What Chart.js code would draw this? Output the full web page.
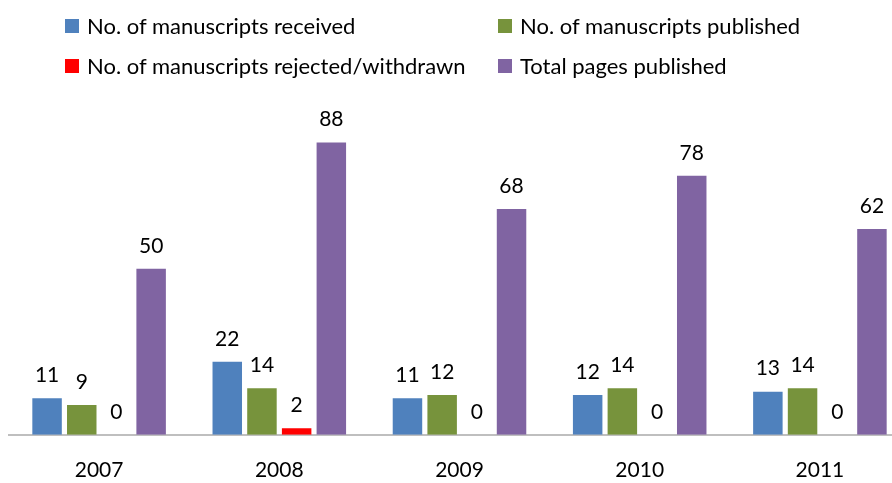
<!DOCTYPE html>
<html>
<head>
<meta charset="utf-8">
<script src="https://cdn.jsdelivr.net/npm/chart.js@4"></script>
<style>
  html, body { margin:0; padding:0; background:#fff; overflow:hidden; width:892px; height:483px; }
  #wrap { position:absolute; left:0; top:0; width:910px; height:506px; }
  #legend { position:absolute; left:0; top:0; width:892px; height:90px; font-family:Lato, "Liberation Sans", sans-serif; font-size:22px; color:#000; z-index:2; }
  .item { position:absolute; display:flex; align-items:center; white-space:nowrap; }
  .sw { width:14px; height:14px; margin-right:8px; }
</style>
</head>
<body>
<div id="legend"></div>
<div id="wrap"><canvas id="c" width="910" height="506"></canvas></div>
<script>
const categories = ["2007", "2008", "2009", "2010", "2011"];
const received = [11, 22, 11, 12, 13];
const published = [9, 14, 12, 14, 14];
const rejected = [0, 2, 0, 0, 0];
const pages = [50, 88, 68, 78, 62];
const seriesNames = ["No. of manuscripts received", "No. of manuscripts published", "No. of manuscripts rejected/withdrawn", "Total pages published"];
const colors = ["#4F81BD", "#77933C", "#FF0000", "#8064A2"];

const FONT = "Lato, 'Liberation Sans', sans-serif";

const legendPos = [[65, 26], [498, 26], [65, 66], [498, 66]];
const legendEl = document.getElementById('legend');
seriesNames.forEach((n, i) => {
  const d = document.createElement('div');
  d.className = 'item';
  d.style.left = legendPos[i][0] + 'px';
  d.style.top = (legendPos[i][1] - 14) + 'px';
  d.innerHTML = '<span class="sw" style="background:' + colors[i] + '"></span><span>' + n + '</span>';
  legendEl.appendChild(d);
});

const valueLabels = {
  id: 'valueLabels',
  afterDatasetsDraw(chart) {
    const ctx = chart.ctx;
    ctx.save();
    ctx.font = "21px " + FONT;
    ctx.fillStyle = "#000";
    ctx.textAlign = "center";
    ctx.textBaseline = "middle";
    chart.data.datasets.forEach((ds, di) => {
      const meta = chart.getDatasetMeta(di);
      meta.data.forEach((el, i) => {
        ctx.fillText(String(ds.data[i]), el.x, el.y - 23);
      });
    });
    ctx.restore();
  }
};

new Chart(document.getElementById('c'), {
  type: 'bar',
  data: {
    labels: categories,
    datasets: [
      { label: seriesNames[0], data: received, backgroundColor: colors[0] },
      { label: seriesNames[1], data: published, backgroundColor: colors[1] },
      { label: seriesNames[2], data: rejected, backgroundColor: colors[2] },
      { label: seriesNames[3], data: pages, backgroundColor: colors[3] }
    ]
  },
  options: {
    responsive: false,
    animation: false,
    devicePixelRatio: 1,
    categoryPercentage: 0.77,
    barPercentage: 0.85,
    layout: { padding: { left: 9, right: 0, top: 126, bottom: 0 } },
    plugins: { legend: { display: false }, tooltip: { enabled: false } },
    scales: {
      x: {
        grid: { display: false, drawTicks: false },
        border: { display: true, color: "#BFBFBF", width: 2 },
        ticks: { color: "#000", font: { size: 21, family: FONT }, padding: 23 }
      },
      y: {
        display: false,
        min: 0,
        max: 93,
        grid: { display: false }
      }
    }
  },
  plugins: [valueLabels]
});
</script>
</body>
</html>
